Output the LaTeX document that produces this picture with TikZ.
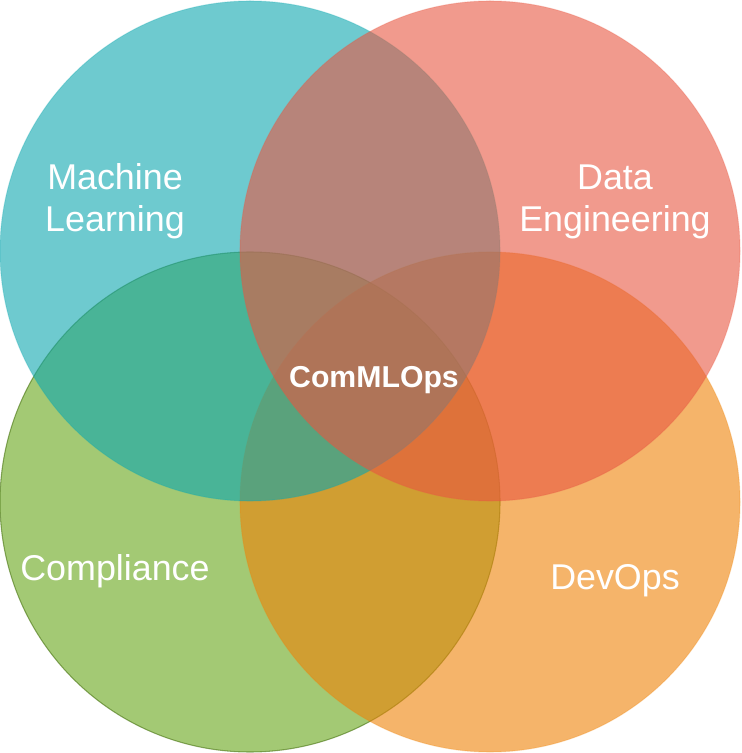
\documentclass[tikz,border=0pt]{standalone}
\usepackage{fontspec}
\setmainfont{Liberation Sans}
\usepackage{tikz}
\pgfdeclarelayer{setlayer}
\pgfsetlayers{setlayer,main}
\definecolor{mlcolor}{RGB}{13,167,175}
\definecolor{decolor}{RGB}{232,87,65}
\definecolor{cocolor}{RGB}{102,165,23}
\definecolor{dvcolor}{RGB}{238,130,7}
\tikzstyle{set}=[circle,minimum size=5cm,inner sep=0pt,fill opacity=0.6,draw opacity=0.25,line width=0.3pt]
\tikzstyle{setlabel}=[text=white,align=center,font=\fontsize{10.2}{12}\selectfont]
\tikzstyle{corelabel}=[text=white,font=\fontsize{8.6}{10}\selectfont\bfseries]

\begin{document}
\begin{tikzpicture}
	\useasboundingbox (0, 0) rectangle (7.41, 7.53);
	\begin{pgfonlayer}{setlayer}
		\node [style=set, fill=cocolor, draw=cocolor!70!black, draw opacity=0.6] (2) at (2.5, 2.51) {};
		\node [style=set, fill=dvcolor, draw=dvcolor] (3) at (4.9, 2.51) {};
		\node [style=set, fill=mlcolor, draw=mlcolor] (0) at (2.5, 5.02) {};
		\node [style=set, fill=decolor, draw=decolor] (1) at (4.9, 5.02) {};
	\end{pgfonlayer}
	\node [style=setlabel] (4) at (1.15, 5.515) {Machine\\Learning};
	\node [style=setlabel] (5) at (6.15, 5.515) {Data\\Engineering};
	\node [style=setlabel] (6) at (1.15, 1.815) {Compliance};
	\node [style=setlabel] (7) at (6.15, 1.72) {DevOps};
	\node [style=corelabel] (8) at (3.74, 3.725) {ComMLOps};
\end{tikzpicture}
\end{document}
